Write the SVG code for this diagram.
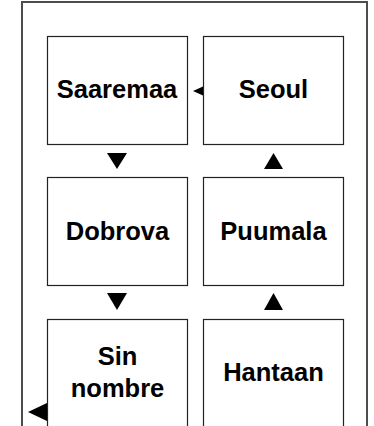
<svg xmlns="http://www.w3.org/2000/svg" width="374" height="426" viewBox="0 0 374 426">
<style>
.frame{fill:none;stroke:#4d4d4d;stroke-width:2}
.box{fill:#fff;stroke:#222;stroke-width:1.2}
.lbl{font-family:"Liberation Sans",Arial,sans-serif;font-weight:bold;font-size:25.5px;fill:#000;text-anchor:middle}
.arr{fill:#000}
</style>
<rect width="374" height="426" fill="#fff"/>
<path class="frame" d="M22,427 V2 H367 V427"/>
<g id="saaremaa"><rect class="box" x="47.5" y="36.5" width="140" height="108"/><text class="lbl" x="117" y="98">Saaremaa</text></g>
<g id="seoul"><rect class="box" x="203.5" y="36.5" width="140" height="108"/><text class="lbl" x="273.5" y="98">Seoul</text></g>
<g id="dobrova"><rect class="box" x="47.5" y="177.5" width="140" height="108"/><text class="lbl" x="117.5" y="240">Dobrova</text></g>
<g id="puumala"><rect class="box" x="203.5" y="177.5" width="140" height="108"/><text class="lbl" x="273.5" y="240">Puumala</text></g>
<g id="sin-nombre"><rect class="box" x="47.5" y="319.5" width="140" height="110"/><text class="lbl" x="117.5" y="365">Sin</text><text class="lbl" x="117.5" y="397">nombre</text></g>
<g id="hantaan"><rect class="box" x="203.5" y="319.5" width="140" height="110"/><text class="lbl" x="273.5" y="381">Hantaan</text></g>
<g id="connectors">
<polygon class="arr" points="193,91 203,86.5 203,95.5"/>
<polygon class="arr" points="107,153 127,153 117,169"/>
<polygon class="arr" points="264,169 283,169 273.5,153"/>
<polygon class="arr" points="107,293 127,293 117,310"/>
<polygon class="arr" points="264,310 283,310 273.5,293"/>
<polygon class="arr" points="28,412 47,403 47,421"/>
</g>
</svg>
